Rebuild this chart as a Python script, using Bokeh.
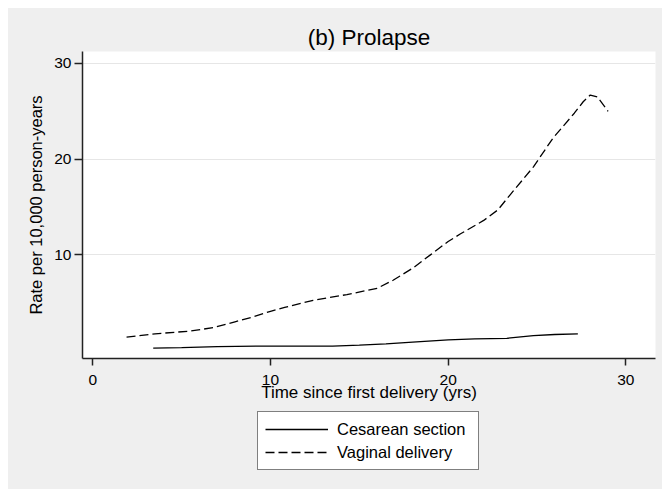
from bokeh.plotting import figure
from bokeh.models import Range1d, Legend, LegendItem, FixedTicker
from bokeh.layouts import column
from bokeh.embed import file_html
from bokeh.resources import INLINE

# Data
title_text = "(b) Prolapse"
x_label = "Time since first delivery (yrs)"
y_label = "Rate per 10,000 person-years"
series_names = ["Cesarean section", "Vaginal delivery"]

ces_x = [3.4, 5.0, 7.0, 10.0, 13.5, 15.0, 16.5, 18.0, 20.0, 21.5, 23.3, 24.8, 26.0, 27.3]
ces_y = [0.25, 0.3, 0.42, 0.47, 0.47, 0.57, 0.7, 0.88, 1.12, 1.22, 1.28, 1.55, 1.68, 1.75]

vag_x = [1.9, 3.5, 5.5, 6.8, 8.0, 9.0, 10.0, 10.8, 12.4, 14.3, 16.0, 16.9, 18.0, 19.0,
         20.0, 20.7, 22.0, 22.8, 23.5, 24.8, 25.9, 27.1, 27.6, 28.0, 28.4, 29.0]
vag_y = [1.4, 1.75, 2.04, 2.4, 3.0, 3.5, 4.1, 4.5, 5.25, 5.85, 6.5, 7.35, 8.6, 10.0,
         11.4, 12.2, 13.6, 14.7, 16.3, 19.2, 22.2, 24.8, 26.0, 26.7, 26.5, 25.0]

x_ticks = [0, 10, 20, 30]
y_ticks = [10, 20, 30]

FONT = "Liberation Sans"
BG = "#efefef"
DASH = "9 4"

p = figure(width=654, height=402, output_backend="svg", toolbar_location=None,
           x_range=Range1d(-0.58, 31.67), y_range=Range1d(-0.83, 31.25),
           min_border_left=74, min_border_right=7, min_border_top=43,
           min_border_bottom=52)

p.background_fill_color = "white"
p.border_fill_color = BG
p.outline_line_color = None

p.title.text = title_text
p.title.align = "center"
p.title.text_font = FONT
p.title.text_font_size = "22.5px"
p.title.text_font_style = "normal"
p.title.text_color = "black"
p.title.standoff = 3

p.line(ces_x, ces_y, line_color="black", line_width=1.3)
p.line(vag_x, vag_y, line_color="black", line_width=1.3, line_dash=DASH)

for ax in (p.xaxis[0], p.yaxis[0]):
    ax.axis_line_color = "#222222"
    ax.axis_line_width = 1.5
    ax.major_tick_line_color = "#222222"
    ax.major_tick_line_width = 1.5
    ax.major_tick_in = 0
    ax.minor_tick_line_color = None
    ax.major_label_text_font = FONT
    ax.major_label_text_font_size = "15.5px"
    ax.major_label_text_color = "black"
    ax.axis_label_text_font = FONT
    ax.axis_label_text_font_style = "normal"
    ax.axis_label_text_color = "black"

p.xaxis[0].ticker = FixedTicker(ticks=x_ticks)
p.yaxis[0].ticker = FixedTicker(ticks=y_ticks)
p.xaxis[0].major_tick_out = 7
p.yaxis[0].major_tick_out = 8
p.xaxis[0].major_label_standoff = 9
p.yaxis[0].major_label_standoff = 3
p.xaxis[0].axis_label = x_label
p.yaxis[0].axis_label = y_label
p.xaxis[0].axis_label_text_font_size = "17px"
p.yaxis[0].axis_label_text_font_size = "16.5px"
p.xaxis[0].axis_label_standoff = -5
p.yaxis[0].axis_label_standoff = 6

p.xgrid.grid_line_color = None
p.ygrid.grid_line_color = "#e6e6e6"
p.ygrid.grid_line_width = 1.2

# Legend panel below the main plot (same side borders so frames line up);
# transparent fills, the column's own background supplies the grey.
q = figure(width=654, height=79, output_backend="svg", toolbar_location=None,
           x_range=Range1d(0, 1), y_range=Range1d(0, 1),
           min_border_left=74, min_border_right=7, min_border_top=0,
           min_border_bottom=0, x_axis_location=None, y_axis_location=None)
q.background_fill_color = None
q.border_fill_color = None
q.outline_line_color = None
q.grid.visible = False

# legend-only renderers, kept outside the visible range
l1 = q.line([-5, -4], [-5, -4], line_color="black", line_width=1.3)
l2 = q.line([-5, -4], [-5, -4], line_color="black", line_width=1.3, line_dash=DASH)

legend = Legend(items=[LegendItem(label=series_names[0], renderers=[l1]),
                       LegendItem(label=series_names[1], renderers=[l2])],
                location=(175, 19), orientation="vertical",
                margin=0, padding=7, spacing=3,
                glyph_width=63, glyph_height=20, label_height=20,
                label_width=134, label_standoff=9,
                label_text_font=FONT, label_text_font_size="16.5px",
                label_text_color="black",
                border_line_color="black", border_line_width=1,
                background_fill_color="white", background_fill_alpha=1)
q.add_layout(legend, "center")

layout = column(p, q, spacing=0)
layout.margin = (8, 0, 0, 8)
layout.styles = {"background-color": BG}

open("out.html", "w").write(file_html(layout, INLINE))
